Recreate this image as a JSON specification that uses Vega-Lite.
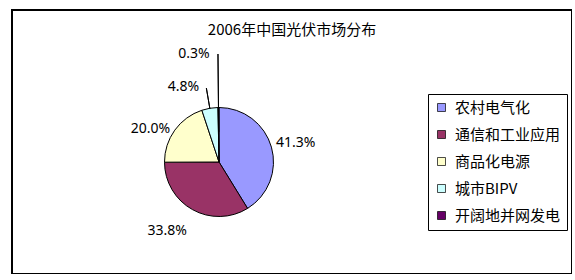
{
  "$schema": "https://vega.github.io/schema/vega-lite/v6.json",
  "width": 560,
  "height": 264,
  "autosize": "none",
  "padding": {"left": 12, "top": 10, "right": 0, "bottom": 0},
  "background": "white",
  "view": {"stroke": "black", "strokeWidth": 2, "fill": "white"},
  "title": {
    "text": "2006年中国光伏市场分布",
    "font": "Noto Sans CJK SC",
    "fontSize": 15,
    "fontWeight": "normal",
    "color": "black",
    "anchor": "middle",
    "frame": "group",
    "baseline": "middle",
    "offset": -35
  },
  "data": {
    "values": [
      {"idx": 1, "cat": "农村电气化", "value": 41.3, "label": "41.3%"},
      {"idx": 2, "cat": "通信和工业应用", "value": 33.8, "label": "33.8%"},
      {"idx": 3, "cat": "商品化电源", "value": 20.0, "label": "20.0%"},
      {"idx": 4, "cat": "城市BIPV", "value": 4.8, "label": "4.8%"},
      {"idx": 5, "cat": "开阔地并网发电", "value": 0.3, "label": "0.3%"}
    ]
  },
  "encoding": {
    "theta": {"field": "value", "type": "quantitative", "stack": true},
    "order": {"field": "idx", "type": "quantitative"}
  },
  "layer": [
    {
      "mark": {"type": "arc", "radius": 54.5, "stroke": "black", "strokeWidth": 1, "xOffset": -73, "yOffset": 20},
      "encoding": {
        "color": {
          "field": "cat",
          "type": "nominal",
          "scale": {
            "domain": ["农村电气化", "通信和工业应用", "商品化电源", "城市BIPV", "开阔地并网发电"],
            "range": ["#9999FF", "#993366", "#FFFFCC", "#CCFFFF", "#660066"]
          },
          "legend": {
            "title": null,
            "orient": "none",
            "legendX": 416,
            "legendY": 84,
            "direction": "vertical",
            "strokeColor": "black",
            "fillColor": "white",
            "padding": 6,
            "labelFont": "Noto Sans CJK SC",
            "labelFontSize": 15,
            "labelColor": "black",
            "labelOffset": 6,
            "labelLimit": 300,
            "symbolType": "square",
            "symbolSize": 64,
            "symbolStrokeColor": "black",
            "symbolStrokeWidth": 0.7,
            "symbolOpacity": 1,
            "rowPadding": 11
          }
        }
      }
    },
    {
      "mark": {"type": "arc", "radius": 30, "radius2": 108, "padAngle": 3, "fill": null, "fillOpacity": 0, "stroke": "black", "strokeWidth": 1, "xOffset": -73, "yOffset": 20},
      "encoding": {
        "strokeOpacity": {"condition": {"test": "datum.idx === 5", "value": 1}, "value": 0}
      }
    },
    {
      "mark": {"type": "arc", "radius": 54, "radius2": 75, "padAngle": 3, "fill": null, "fillOpacity": 0, "stroke": "black", "strokeWidth": 1, "xOffset": -73, "yOffset": 20},
      "encoding": {
        "strokeOpacity": {"condition": {"test": "datum.idx === 4", "value": 1}, "value": 0}
      }
    },
    {
      "mark": {"type": "text", "radius": 79, "thetaOffset": 0.032, "font": "Noto Sans", "fontSize": 14, "color": "black", "align": "center", "baseline": "middle", "xOffset": -73, "yOffset": 20},
      "encoding": {"text": {"condition": {"test": "datum.idx === 1", "field": "label"}, "value": ""}}
    },
    {
      "mark": {"type": "text", "radius": 86, "thetaOffset": 0.138, "font": "Noto Sans", "fontSize": 14, "color": "black", "align": "center", "baseline": "middle", "xOffset": -73, "yOffset": 20},
      "encoding": {"text": {"condition": {"test": "datum.idx === 2", "field": "label"}, "value": ""}}
    },
    {
      "mark": {"type": "text", "radius": 76, "thetaOffset": -0.176, "font": "Noto Sans", "fontSize": 14, "color": "black", "align": "center", "baseline": "middle", "xOffset": -73, "yOffset": 20},
      "encoding": {"text": {"condition": {"test": "datum.idx === 3", "field": "label"}, "value": ""}}
    },
    {
      "mark": {"type": "text", "radius": 83.4, "thetaOffset": -0.27, "font": "Noto Sans", "fontSize": 14, "color": "black", "align": "center", "baseline": "middle", "xOffset": -73, "yOffset": 20},
      "encoding": {"text": {"condition": {"test": "datum.idx === 4", "field": "label"}, "value": ""}}
    },
    {
      "mark": {"type": "text", "radius": 110.4, "thetaOffset": -0.22, "font": "Noto Sans", "fontSize": 14, "color": "black", "align": "center", "baseline": "middle", "xOffset": -73, "yOffset": 20},
      "encoding": {"text": {"condition": {"test": "datum.idx === 5", "field": "label"}, "value": ""}}
    }
  ]
}
